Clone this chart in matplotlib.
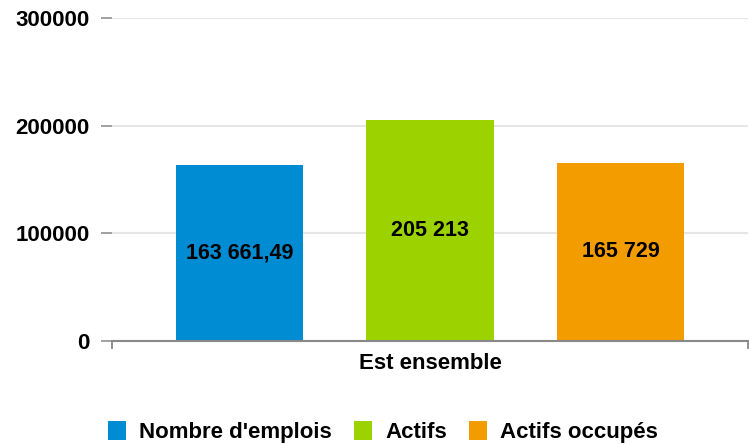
import matplotlib
matplotlib.use("Agg")
import matplotlib.pyplot as plt
from matplotlib.patches import Patch

# data
series = ["Nombre d'emplois", "Actifs", "Actifs occupés"]
values = [163661.49, 205213, 165729]
labels = ["163 661,49", "205 213", "165 729"]
colors = ["#008cd2", "#9bd200", "#f29c00"]
category = "Est ensemble"
yticks = [0, 100000, 200000, 300000]

plt.rcParams['font.family'] = ['Liberation Sans', 'DejaVu Sans']

fig = plt.figure(figsize=(7.49, 4.45), dpi=100)
ax = fig.add_axes([112 / 749, 104 / 445, 636 / 749, 323 / 445])

positions = [-1, 0, 1]
bars = ax.bar(positions, values, width=0.667, color=colors, zorder=3)
for b, lab in zip(bars, labels):
    ax.text(b.get_x() + b.get_width() / 2, b.get_height() / 2, lab,
            ha='center', va='center', fontsize=15.5, fontweight='bold', zorder=4)

ax.set_ylim(0, 300000)
ax.set_xlim(-1.669, 1.669)
ax.set_yticks(yticks)
ax.set_yticklabels([str(v) for v in yticks], fontsize=16, fontweight='bold')
ax.grid(axis='y', color='#e6e6e6', linewidth=1.5, zorder=0)
ax.tick_params(axis='y', length=8, width=1.3, color='#999999', pad=8)

ax.set_xticks([-1.669, 1.669])
ax.set_xticklabels(["", ""])
ax.tick_params(axis='x', length=6, width=1.3, color='#888888', direction='out')
ax.text(0, -0.071, category, transform=ax.get_xaxis_transform(),
        ha='center', va='center', fontsize=16, fontweight='bold')

for side in ['top', 'right', 'left']:
    ax.spines[side].set_visible(False)
ax.spines['bottom'].set_color('#888888')
ax.spines['bottom'].set_linewidth(1.5)
ax.spines['bottom'].set_zorder(5)

handles = [Patch(facecolor=c, label=s) for c, s in zip(colors, series)]
fig.legend(handles=handles, loc='center', bbox_to_anchor=(383 / 749, 1 - 432 / 445),
           ncol=3, frameon=False, prop={'size': 16, 'weight': 'bold'},
           handlelength=0.8, handleheight=0.9, handletextpad=0.6, columnspacing=1.0)

fig.savefig("out.png", dpi=100)
